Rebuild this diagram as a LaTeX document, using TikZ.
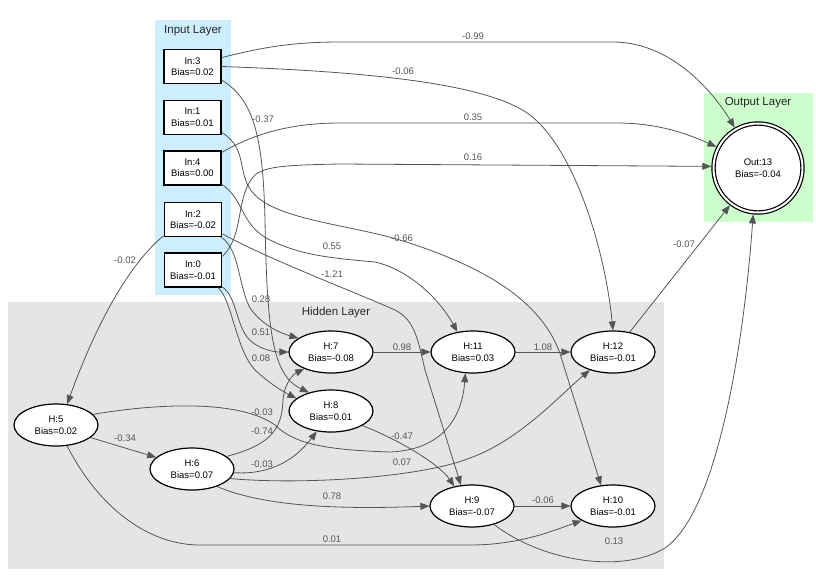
\documentclass[tikz,border=0pt]{standalone}
\usepackage{fontspec}
\setmainfont{Liberation Sans}
\usetikzlibrary{arrows.meta,shapes.geometric}
\definecolor{inputbg}{RGB}{204,238,255}
\definecolor{outputbg}{RGB}{204,255,204}
\definecolor{hiddenbg}{RGB}{229,229,229}
\definecolor{edgegray}{RGB}{85,85,85}
\tikzset{
	inbox/.style = {draw, line width=1.2pt, fill=white, minimum width=57pt, minimum height=34pt,
		inner xsep=6pt, align=center, font=\fontsize{9.5}{11.5}\selectfont},
	hidnode/.style = {draw, line width=1.2pt, fill=white, ellipse, minimum width=84pt, minimum height=42pt,
		inner sep=0pt, align=center, font=\fontsize{9.5}{12}\selectfont},
	outnode/.style = {draw, line width=1.2pt, double=white, double distance=2pt, circle, fill=white,
		minimum size=89pt, inner sep=0pt, outer sep=2.2pt, align=center, font=\fontsize{9.5}{11.5}\selectfont},
	conn/.style = {draw=edgegray, line width=0.8pt, -{Triangle[length=9pt,width=7pt]}},
	wlabel/.style = {text=edgegray, inner sep=1pt, font=\fontsize{9.5}{11}\selectfont},
	clusterlabel/.style = {text=black!85, font=\fontsize{11.5}{13}\selectfont}
}
\begin{document}
\begin{tikzpicture}[x=1pt, y=-1pt]
	\useasboundingbox (0,0) rectangle (816,576);
	% layer frames
	\fill[inputbg] (155,20) rectangle (231,295);
	\fill[outputbg] (704,93) rectangle (813,222);
	\fill[hiddenbg] (8,302) rectangle (664,569);
	\node[clusterlabel] (inlayer) at (193,31) {Input Layer};
	\node[clusterlabel] (outlayer) at (758,103) {Output Layer};
	\node[clusterlabel] (hidlayer) at (336,313) {Hidden Layer};
	% input nodes
	\node[inbox] (In3) at (192.5,66.5) {In:3\\Bias=0.02};
	\node[inbox] (In1) at (192.5,117.5) {In:1\\Bias=0.01};
	\node[inbox] (In4) at (192.5,168) {In:4\\Bias=0.00};
	\node[inbox] (In2) at (193,219.5) {In:2\\Bias=-0.02};
	\node[inbox] (In0) at (193,270) {In:0\\Bias=-0.01};
	% output node
	\node[outnode] (Out13) at (758,168) {Out:13\\Bias=-0.04};
	% hidden nodes
	\node[hidnode] (H5) at (56,425) {H:5\\Bias=0.02};
	\node[hidnode] (H6) at (192,469) {H:6\\Bias=0.07};
	\node[hidnode] (H7) at (331,352) {H:7\\Bias=-0.08};
	\node[hidnode] (H8) at (331,411) {H:8\\Bias=0.01};
	\node[hidnode] (H11) at (473,352) {H:11\\Bias=0.03};
	\node[hidnode] (H12) at (613,352) {H:12\\Bias=-0.01};
	\node[hidnode] (H9) at (472,506) {H:9\\Bias=-0.07};
	\node[hidnode] (H10) at (613,506) {H:10\\Bias=-0.01};
	% input to output
	\draw[conn] (In3.17) .. controls (260,48) and (290,42) .. (340,42) -- (613,42)
		.. controls (670,42) and (712,90) .. (Out13.120);
	\draw[conn] (In4.28) .. controls (260,130) and (300,123) .. (340,123) -- (617,123)
		.. controls (660,123) and (690,135) .. (Out13.153);
	\draw[conn] (In0.25) .. controls (245,235) and (235,195) .. (255,175)
		.. controls (265,166) and (290,165) .. (340,164) -- (Out13.178);
	% input to hidden
	\draw[conn] (In3.east) .. controls (380,72) and (490,85) .. (530,115)
		.. controls (575,150) and (605,250) .. (H12.north);
	\draw[conn] (In3.-25) .. controls (255,100) and (263,140) .. (265,220)
		.. controls (267,330) and (272,375) .. (H8.140);
	\draw[conn] (In1.-27) .. controls (250,150) and (235,175) .. (255,195)
		.. controls (280,220) and (350,225) .. (400,240)
		.. controls (480,265) and (545,300) .. (562,360) -- (H10.120);
	\draw[conn] (In4.-29) .. controls (245,200) and (240,225) .. (270,240)
		.. controls (300,255) and (330,258) .. (375,262)
		.. controls (410,270) and (440,300) .. (H11.128);
	\draw[conn] (In2.-26) .. controls (270,260) and (350,290) .. (395,310)
		.. controls (415,320) and (418,340) .. (425,370) -- (H9.118);
	\draw[conn] (In2.209) .. controls (140,255) and (105,300) .. (H5.62);
	\draw[conn] (In2.-32) .. controls (240,250) and (238,285) .. (250,308)
		.. controls (262,325) and (280,333) .. (H7.157);
	\draw[conn] (In0.-30) .. controls (238,298) and (236,330) .. (252,342)
		.. controls (262,350) and (275,352) .. (H7.west);
	\draw[conn] (In0.-35) .. controls (232,300) and (236,350) .. (255,370)
		.. controls (268,382) and (280,390) .. (H8.160);
	% hidden to hidden
	\draw[conn] (H7.east) -- (H11.west);
	\draw[conn] (H11.east) -- (H12.west);
	\draw[conn] (H9.east) -- (H10.west);
	\draw[conn] (H5.-20) -- (H6.162);
	\draw[conn] (H5.-62) .. controls (100,510) and (150,545) .. (200,545) -- (470,545)
		.. controls (520,545) and (555,530) .. (H10.205);
	\draw[conn] (H5.16) .. controls (160,403) and (240,400) .. (275,425)
		.. controls (295,445) and (330,450) .. (390,452)
		.. controls (440,450) and (462,420) .. (H11.-110);
	\draw[conn] (H6.20) .. controls (270,445) and (282,430) .. (283,400)
		.. controls (284,385) and (292,375) .. (H7.212);
	\draw[conn] (H6.-5) .. controls (270,475) and (295,460) .. (H8.235);
	\draw[conn] (H6.-14) .. controls (300,485) and (420,478) .. (470,458)
		.. controls (520,440) and (560,395) .. (H12.218);
	\draw[conn] (H6.-35) .. controls (260,505) and (330,510) .. (H9.west);
	\draw[conn] (H8.-25) .. controls (400,440) and (440,465) .. (H9.132);
	% hidden to output
	\draw[conn] (H12.50) -- (Out13.233);
	\draw[conn] (H9.-40) .. controls (540,560) and (620,575) .. (665,548)
		.. controls (720,510) and (745,330) .. (Out13.-96);
	% weights
	\node[wlabel] (w3o) at (473,36) {-0.99};
	\node[wlabel] (w3h12) at (403,71) {-0.06};
	\node[wlabel] (w3h8) at (263,119) {-0.37};
	\node[wlabel] (w4o) at (473,117) {0.35};
	\node[wlabel] (w0o) at (473,157) {0.16};
	\node[wlabel] (w4h11) at (332,246) {0.55};
	\node[wlabel] (w1h10) at (402,238) {-0.66};
	\node[wlabel] (w2h9) at (332,274) {-1.21};
	\node[wlabel] (w2h5) at (125,260) {-0.02};
	\node[wlabel] (w2h7) at (261,299) {0.28};
	\node[wlabel] (w0h7) at (261,332) {0.51};
	\node[wlabel] (w0h8) at (261,358) {0.08};
	\node[wlabel] (w7h11) at (402,347) {0.98};
	\node[wlabel] (w11h12) at (543,347) {1.08};
	\node[wlabel] (w12o) at (684,244) {-0.07};
	\node[wlabel] (w5h11) at (262,412) {-0.03};
	\node[wlabel] (w6h7) at (262,431) {-0.74};
	\node[wlabel] (w5h6) at (125,438) {-0.34};
	\node[wlabel] (w6h8) at (262,464) {-0.03};
	\node[wlabel] (w6h12) at (402,462) {0.07};
	\node[wlabel] (w6h9) at (332,496) {0.78};
	\node[wlabel] (w8h9) at (402,436) {-0.47};
	\node[wlabel] (w9h10) at (543,500) {-0.06};
	\node[wlabel] (w5h10) at (332,539) {0.01};
	\node[wlabel] (w9o) at (614,541) {0.13};
\end{tikzpicture}
\end{document}
